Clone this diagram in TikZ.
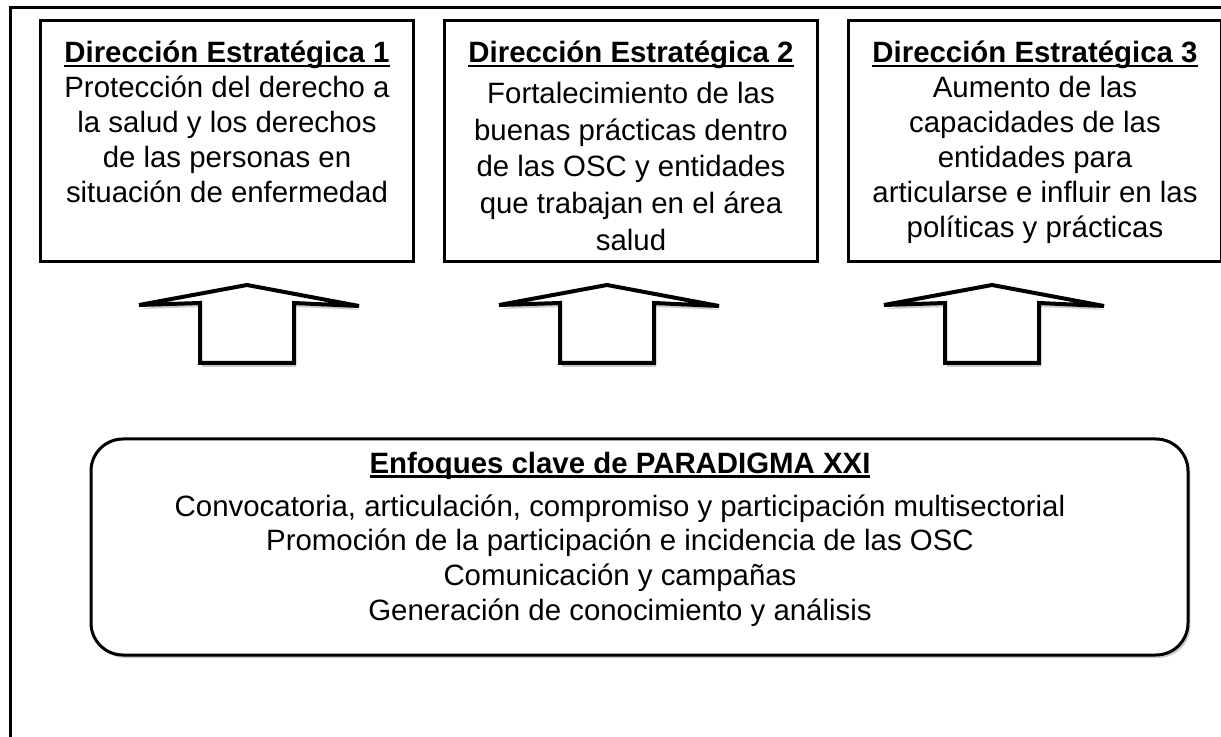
\documentclass[tikz,border=0pt]{standalone}
\usepackage{fontspec}
\setmainfont{Liberation Sans}
\usetikzlibrary{positioning,shadows}

\newsavebox{\headbox}
\newcommand{\dirhead}[1]{{\bfseries\sbox{\headbox}{#1}\rlap{\rule[-2.4pt]{\wd\headbox}{1.3pt}}\usebox{\headbox}}}

\begin{document}
\begin{tikzpicture}[x=0.5pt,y=-0.5pt,node distance=14pt]
            \tikzstyle{dirbox}=[draw, line width=1.5pt, minimum width=186.5pt, minimum height=120.5pt, inner sep=0pt]
            \tikzstyle{dirtext}=[align=center, inner sep=0pt, font=\fontsize{14.7}{17.5}\selectfont]
            \tikzstyle{keybox}=[draw, line width=1.5pt, rounded corners=16pt, fill=white,
                minimum width=548.5pt, minimum height=108pt,
                drop shadow={shadow xshift=1.2pt, shadow yshift=-1.5pt, fill=black!20, opacity=1}]
            \tikzstyle{uparrow}=[draw, line width=2pt, fill=white,
                drop shadow={shadow xshift=1pt, shadow yshift=-2pt, fill=black!20, opacity=1}]

            \useasboundingbox (0,0) rectangle (1221,737);
            \draw[line width=1.5pt] (10,750) |- (1235,8);

            % strategic directions
            \node[dirbox]             (d1) at (227,141.5) {};
            \node[dirbox, right=of d1] (d2) {};
            \node[dirbox, right=of d2] (d3) {};

            \node[dirtext, below=10.5pt of d1.north] (t1)
                {\dirhead{Dirección Estratégica 1}\\Protección del derecho a\\la salud y los derechos\\de las personas en\\situación de enfermedad};
            \node[dirtext, font=\fontsize{14.7}{18.4}\selectfont, below=10.5pt of d2.north] (t2)
                {\dirhead{Dirección Estratégica 2}\\[2pt]Fortalecimiento de las\\buenas prácticas dentro\\de las OSC y entidades\\que trabajan en el área\\salud};
            \node[dirtext, below=10.5pt of d3.north] (t3)
                {\dirhead{Dirección Estratégica 3}\\Aumento de las\\capacidades de las\\entidades para\\articularse e influir en las\\políticas y prácticas};

            % block arrows
            \foreach \cx in {247,607,992}
                \draw[uparrow] (\cx-47,363) -- (\cx-47,303) -- (\cx-108,305) -- (\cx,285)
                    -- (\cx+112,306) -- (\cx+47,303) -- (\cx+47,363) -- cycle;

            % key approaches
            \node[keybox] (keys) at (639.5,547) {};
            \node[dirtext, font=\fontsize{14.7}{17.4}\selectfont, below=7pt of keys.north, xshift=-9.75pt] (kt)
                {\dirhead{Enfoques clave de PARADIGMA XXI}\\[4pt]
                 Convocatoria, articulación, compromiso y participación multisectorial\\
                 Promoción de la participación e incidencia de las OSC\\
                 Comunicación y campañas\\
                 Generación de conocimiento y análisis};
        \end{tikzpicture}
\end{document}
